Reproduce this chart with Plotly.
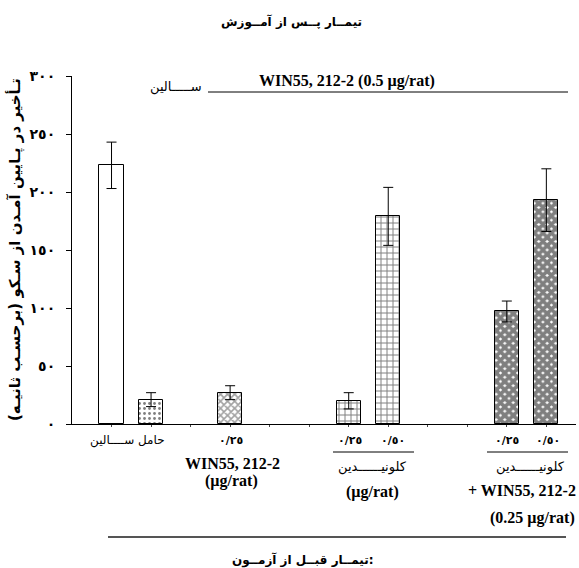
import plotly.graph_objects as go

# ---- data ----
positions = [0, 1, 3, 6, 7, 10, 11]
means = [223, 21, 27, 20, 179, 97, 193]
sems = [20, 6, 6, 7, 25, 9, 27]
pattern_shapes = ["", ".", "x", "+", "+", "x", "x"]
pattern_fg = ["black", "black", "#444444", "black", "black", "black", "black"]
pattern_size = [6, 5, 5, 6, 6, 6, 6]
pattern_solid = [0.2, 0.25, 0.55, 0.3, 0.3, 0.85, 0.85]
y_tickvals = [0, 50, 100, 150, 200, 250, 300]
y_ticktext = ["<b>٠</b>", "<b>٥٠</b>", "<b>١٠٠</b>", "<b>١٥٠</b>",
              "<b>٢٠٠</b>", "<b>٢٥٠</b>", "<b>٣٠٠</b>"]

W, H = 579, 568
L, R, T, B = 72, 576, 76, 424


def px(x):
    return (x - L) / (R - L)


def py(y):
    return (B - y) / (B - T)


FONT = "Liberation Serif, DejaVu Sans, serif"
AFONT = "DejaVu Sans, Liberation Serif, sans-serif"

fig = go.Figure()
fig.add_trace(go.Bar(
    x=positions, y=means, width=0.61,
    marker=dict(color="white", line=dict(color="black", width=1),
                pattern=dict(shape=pattern_shapes, fgcolor=pattern_fg,
                             bgcolor="white", size=pattern_size,
                             solidity=pattern_solid, fillmode="overlay")),
    error_y=dict(type="data", array=sems, visible=True, color="black",
                 thickness=1, width=5),
    showlegend=False, hoverinfo="skip",
))

annotations = []


def ann(text, x, y, size=12, font=AFONT, xanchor="center", angle=0):
    annotations.append(dict(text=text, x=px(x), y=py(y), xref="paper", yref="paper",
                            showarrow=False, xanchor=xanchor, yanchor="middle",
                            textangle=angle,
                            font=dict(family=font, size=size, color="black")))


ann("<b>تیمــار پــس از آمــوزش</b>", 291, 22, 12)
ann("<b>WIN55, 212-2 (0.5 µg/rat)</b>", 347, 81, 16, FONT)
ann("ســـــالین", 176, 87, 13)
ann("<b>\u200fتـأخیر در پـایین آمـدن از سـکو (برحسـب ثانیـه)\u200f</b>", 15, 250, 15, AFONT, angle=-90)

ann("حامل ســــالین", 127, 440, 12)
ann("<b>٠/٢٥</b>", 231, 440, 11)
ann("<b>WIN55, 212-2</b>", 232, 463, 16, FONT)
ann("<b>(µg/rat)</b>", 231, 481, 16, FONT)

ann("<b>٠/٢٥</b>", 350, 440, 11)
ann("<b>٠/٥٠</b>", 393, 440, 11)
ann("کلونیــــــدین", 372, 467, 13)
ann("<b>(µg/rat)</b>", 372, 492, 16, FONT)

ann("<b>٠/٢٥</b>", 507, 440, 11)
ann("<b>٠/٥٠</b>", 548, 440, 11)
ann("کلونیــــــدین", 530, 467, 13)
ann("<b>+ WIN55, 212-2</b>", 466, 490, 16, FONT, xanchor="left")
ann("<b>(0.25 µg/rat)</b>", 532, 518, 16, FONT)

ann("<b>تیمــار قبــل از آزمــون:</b>", 303, 560, 12)

shapes = []


def hline(x0, x1, y, color="black", width=1):
    shapes.append(dict(type="line", xref="paper", yref="paper",
                       x0=px(x0), x1=px(x1), y0=py(y), y1=py(y),
                       line=dict(color=color, width=width)))


hline(208, 568, 92)
hline(333, 414, 452)
hline(487, 568, 452)
hline(108, 566, 537, "#555555", 2)

fig.update_layout(
    width=W, height=H,
    margin=dict(l=L, r=W - R, t=T, b=H - B, pad=0),
    paper_bgcolor="white", plot_bgcolor="white",
    annotations=annotations, shapes=shapes,
    bargap=0,
    xaxis=dict(range=[-1, 11.75], showline=True, linecolor="black", linewidth=1,
               showgrid=False, zeroline=False, showticklabels=False,
               tickvals=list(range(0, 12)), ticks="outside", ticklen=2,
               tickcolor="#444444", fixedrange=True),
    yaxis=dict(range=[0, 300], showline=True, linecolor="black", linewidth=1,
               showgrid=False, zeroline=False, tickvals=y_tickvals, ticktext=y_ticktext,
               ticks="outside", ticklen=5, tickcolor="black",
               ticklabelstandoff=8,
               tickfont=dict(family=AFONT, size=14, color="black"), fixedrange=True),
)

fig.write_html("out.html", config={"displayModeBar": False},
               post_script="document.body.style.margin='0';document.body.style.overflow='hidden';")
